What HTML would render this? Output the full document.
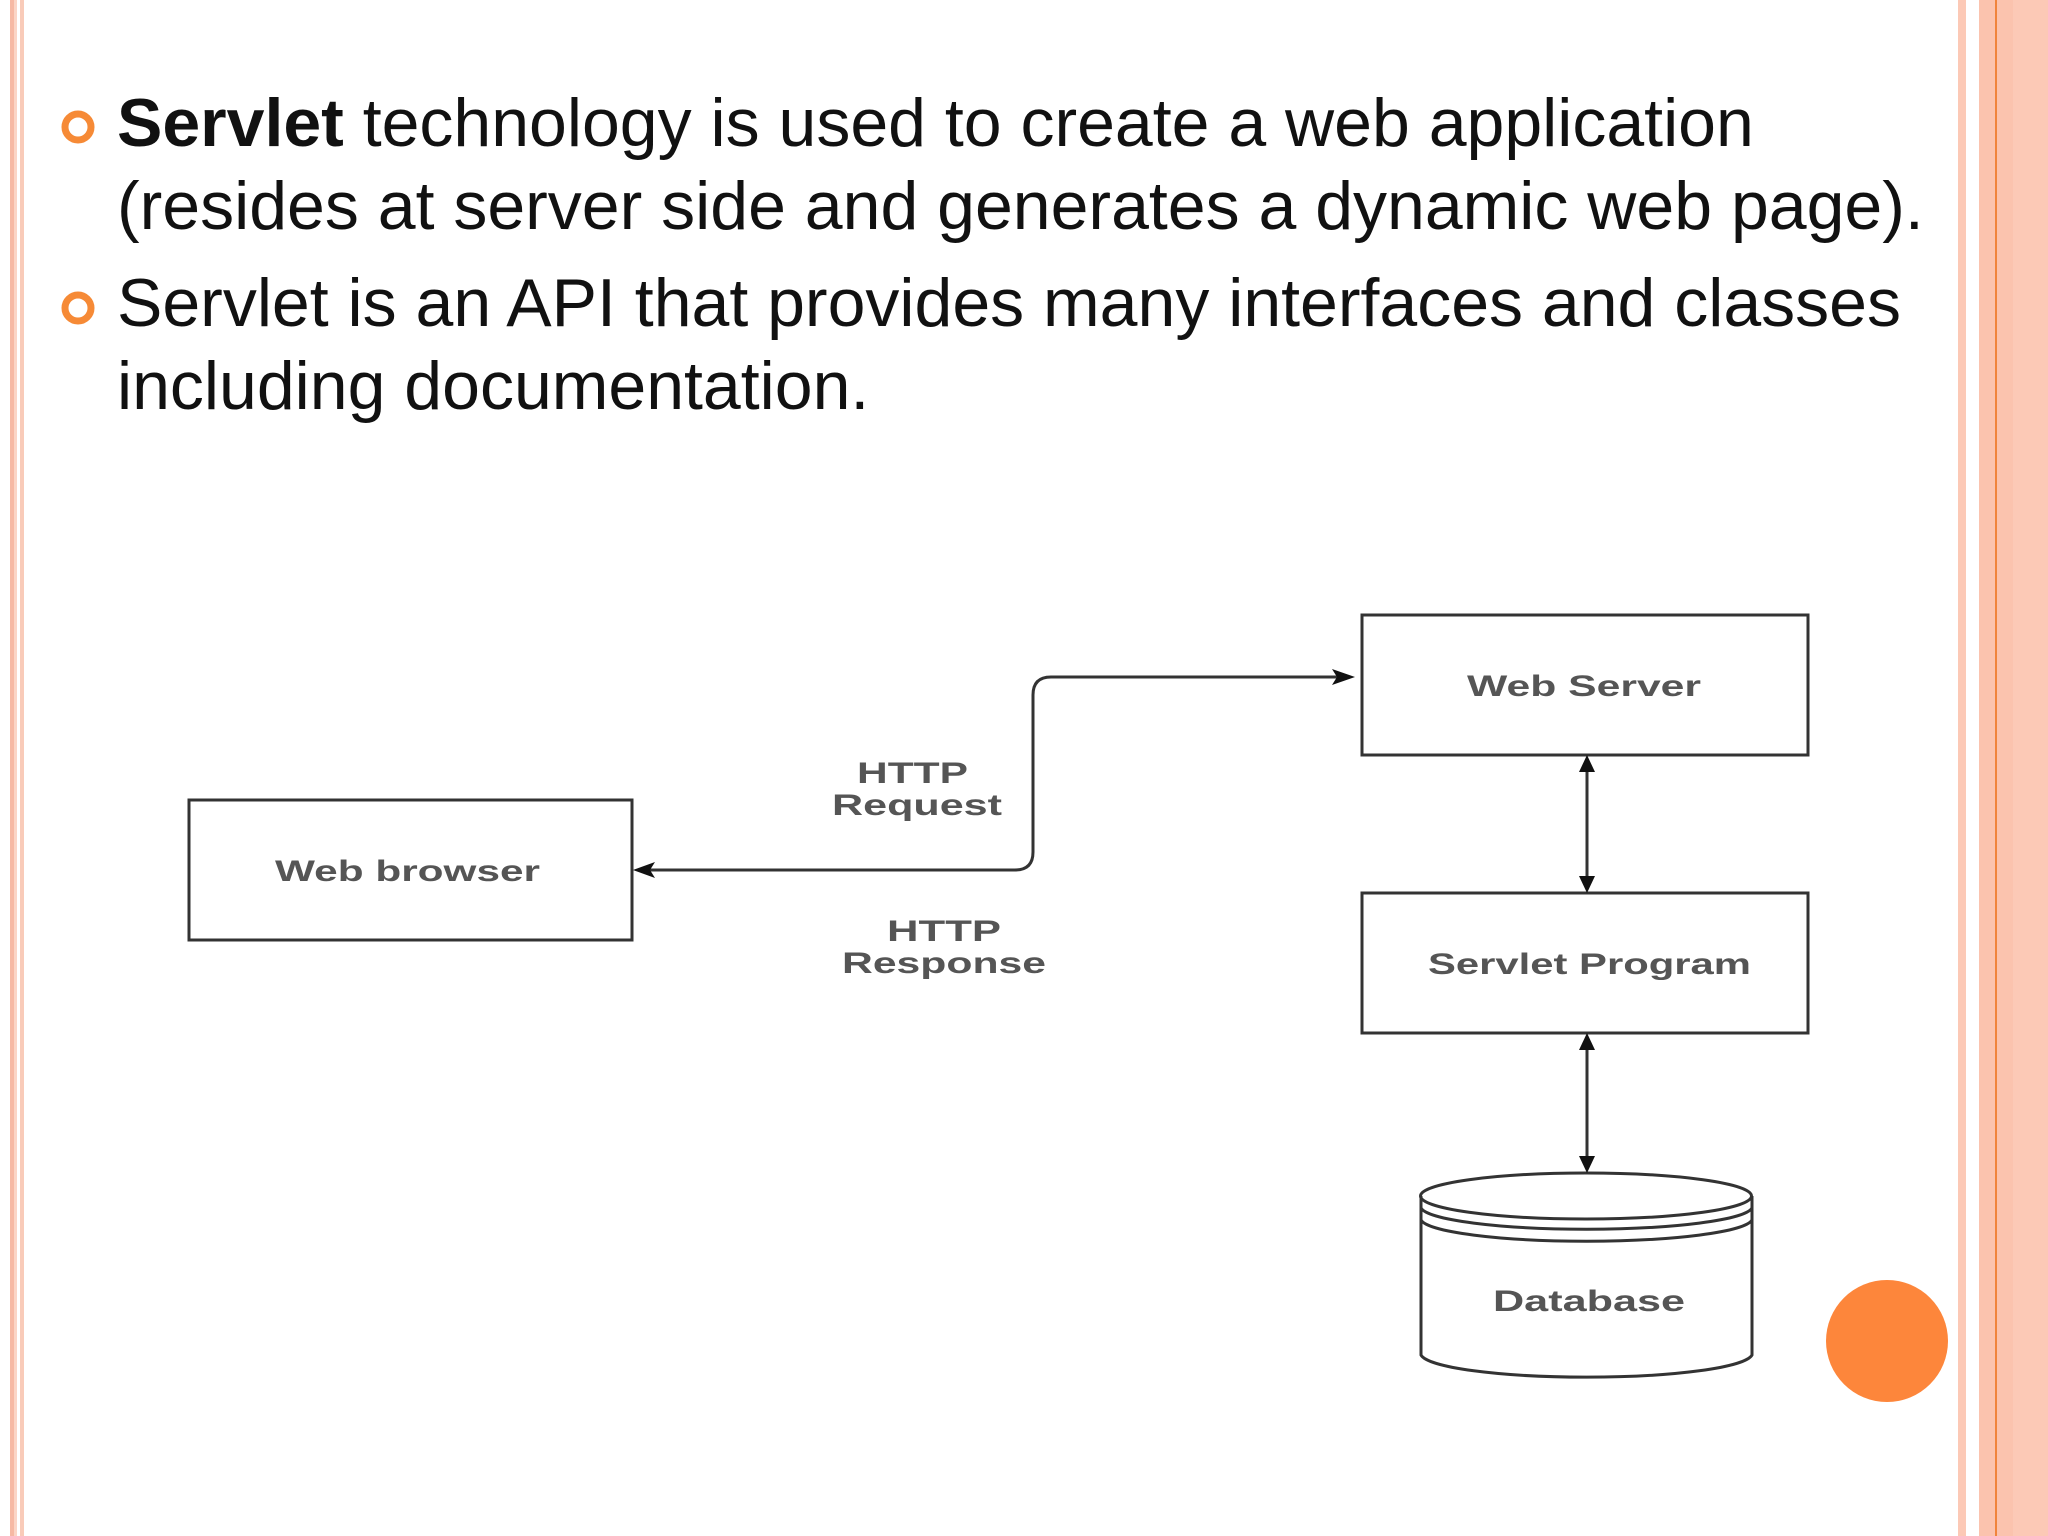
<!DOCTYPE html>
<html><head><meta charset="utf-8"><style>
html,body{margin:0;padding:0;width:2048px;height:1536px;overflow:hidden;background:#fff;}
svg{display:block;}
</style></head><body>
<svg width="2048" height="1536" viewBox="0 0 2048 1536" xmlns="http://www.w3.org/2000/svg">
<rect width="2048" height="1536" fill="#fff"/>
<rect x="10" y="0" width="4" height="1536" fill="#f6b9a4"/>
<rect x="14" y="0" width="3" height="1536" fill="#fbd5c6"/>
<rect x="20" y="0" width="4" height="1536" fill="#f9cbb9"/>
<rect x="1958" y="0" width="8" height="1536" fill="#fcc9b6"/>
<rect x="1979" y="0" width="69" height="1536" fill="#fcc9b6"/>
<rect x="1979" y="0" width="34" height="1536" fill="#fbc3ae"/>
<rect x="1995" y="0" width="2" height="1536" fill="#f0843c"/>
<circle cx="78" cy="127" r="13" fill="none" stroke="#f68a36" stroke-width="7"/>
<circle cx="78" cy="308" r="13" fill="none" stroke="#f68a36" stroke-width="7"/>
<g font-family="Liberation Sans, sans-serif" font-size="68" fill="#111">
<text x="117" y="146"><tspan font-weight="bold">Servlet</tspan> technology is used to create a web application</text>
<text x="117" y="229">(resides at server side and generates a dynamic web page).</text>
<text x="117" y="326">Servlet is an API that provides many interfaces and classes</text>
<text x="117" y="409">including documentation.</text>
</g>
<g fill="none" stroke="#333" stroke-width="3">
<rect x="189" y="800" width="443" height="140"/>
<rect x="1362" y="615" width="446" height="140"/>
<rect x="1362" y="893" width="446" height="140"/>
<path d="M645 870 H1015 Q1033 870 1033 852 V695 Q1033 677 1051 677 H1342"/>
<line x1="1587" y1="770" x2="1587" y2="880"/>
<line x1="1587" y1="1048" x2="1587" y2="1160"/>
<path d="M1421 1196 V1355 A166 24 0 0 0 1752 1355 V1196"/>
<ellipse cx="1586" cy="1196" rx="165.5" ry="23"/>
<path d="M1421 1208 A166 23 0 0 0 1752 1208"/>
<path d="M1421 1220 A166 23 0 0 0 1752 1220"/>
</g>
<g fill="#111">
<polygon points="633,870 655,862 650,870 655,878"/>
<polygon points="1355,677 1332,669 1337,677 1332,685"/>
<polygon points="1587,755 1579,772 1595,772"/>
<polygon points="1587,893 1579,876 1595,876"/>
<polygon points="1587,1033 1579,1050 1595,1050"/>
<polygon points="1587,1173 1579,1156 1595,1156"/>
</g>
<circle cx="1887" cy="1341" r="61" fill="#fd863b"/>
<g font-family="Liberation Sans, sans-serif" font-size="30" font-weight="bold" fill="#555" lengthAdjust="spacingAndGlyphs">
<text x="275" y="881" textLength="265" lengthAdjust="spacingAndGlyphs">Web browser</text>
<text x="1467" y="696" textLength="234" lengthAdjust="spacingAndGlyphs">Web Server</text>
<text x="1428" y="974" textLength="323" lengthAdjust="spacingAndGlyphs">Servlet Program</text>
<text x="1493" y="1311" textLength="192" lengthAdjust="spacingAndGlyphs">Database</text>
<text x="857" y="783" textLength="111" lengthAdjust="spacingAndGlyphs">HTTP</text>
<text x="832" y="815" textLength="170" lengthAdjust="spacingAndGlyphs">Request</text>
<text x="887" y="941" textLength="114" lengthAdjust="spacingAndGlyphs">HTTP</text>
<text x="842" y="973" textLength="204" lengthAdjust="spacingAndGlyphs">Response</text>
</g>
</svg>
</body></html>
